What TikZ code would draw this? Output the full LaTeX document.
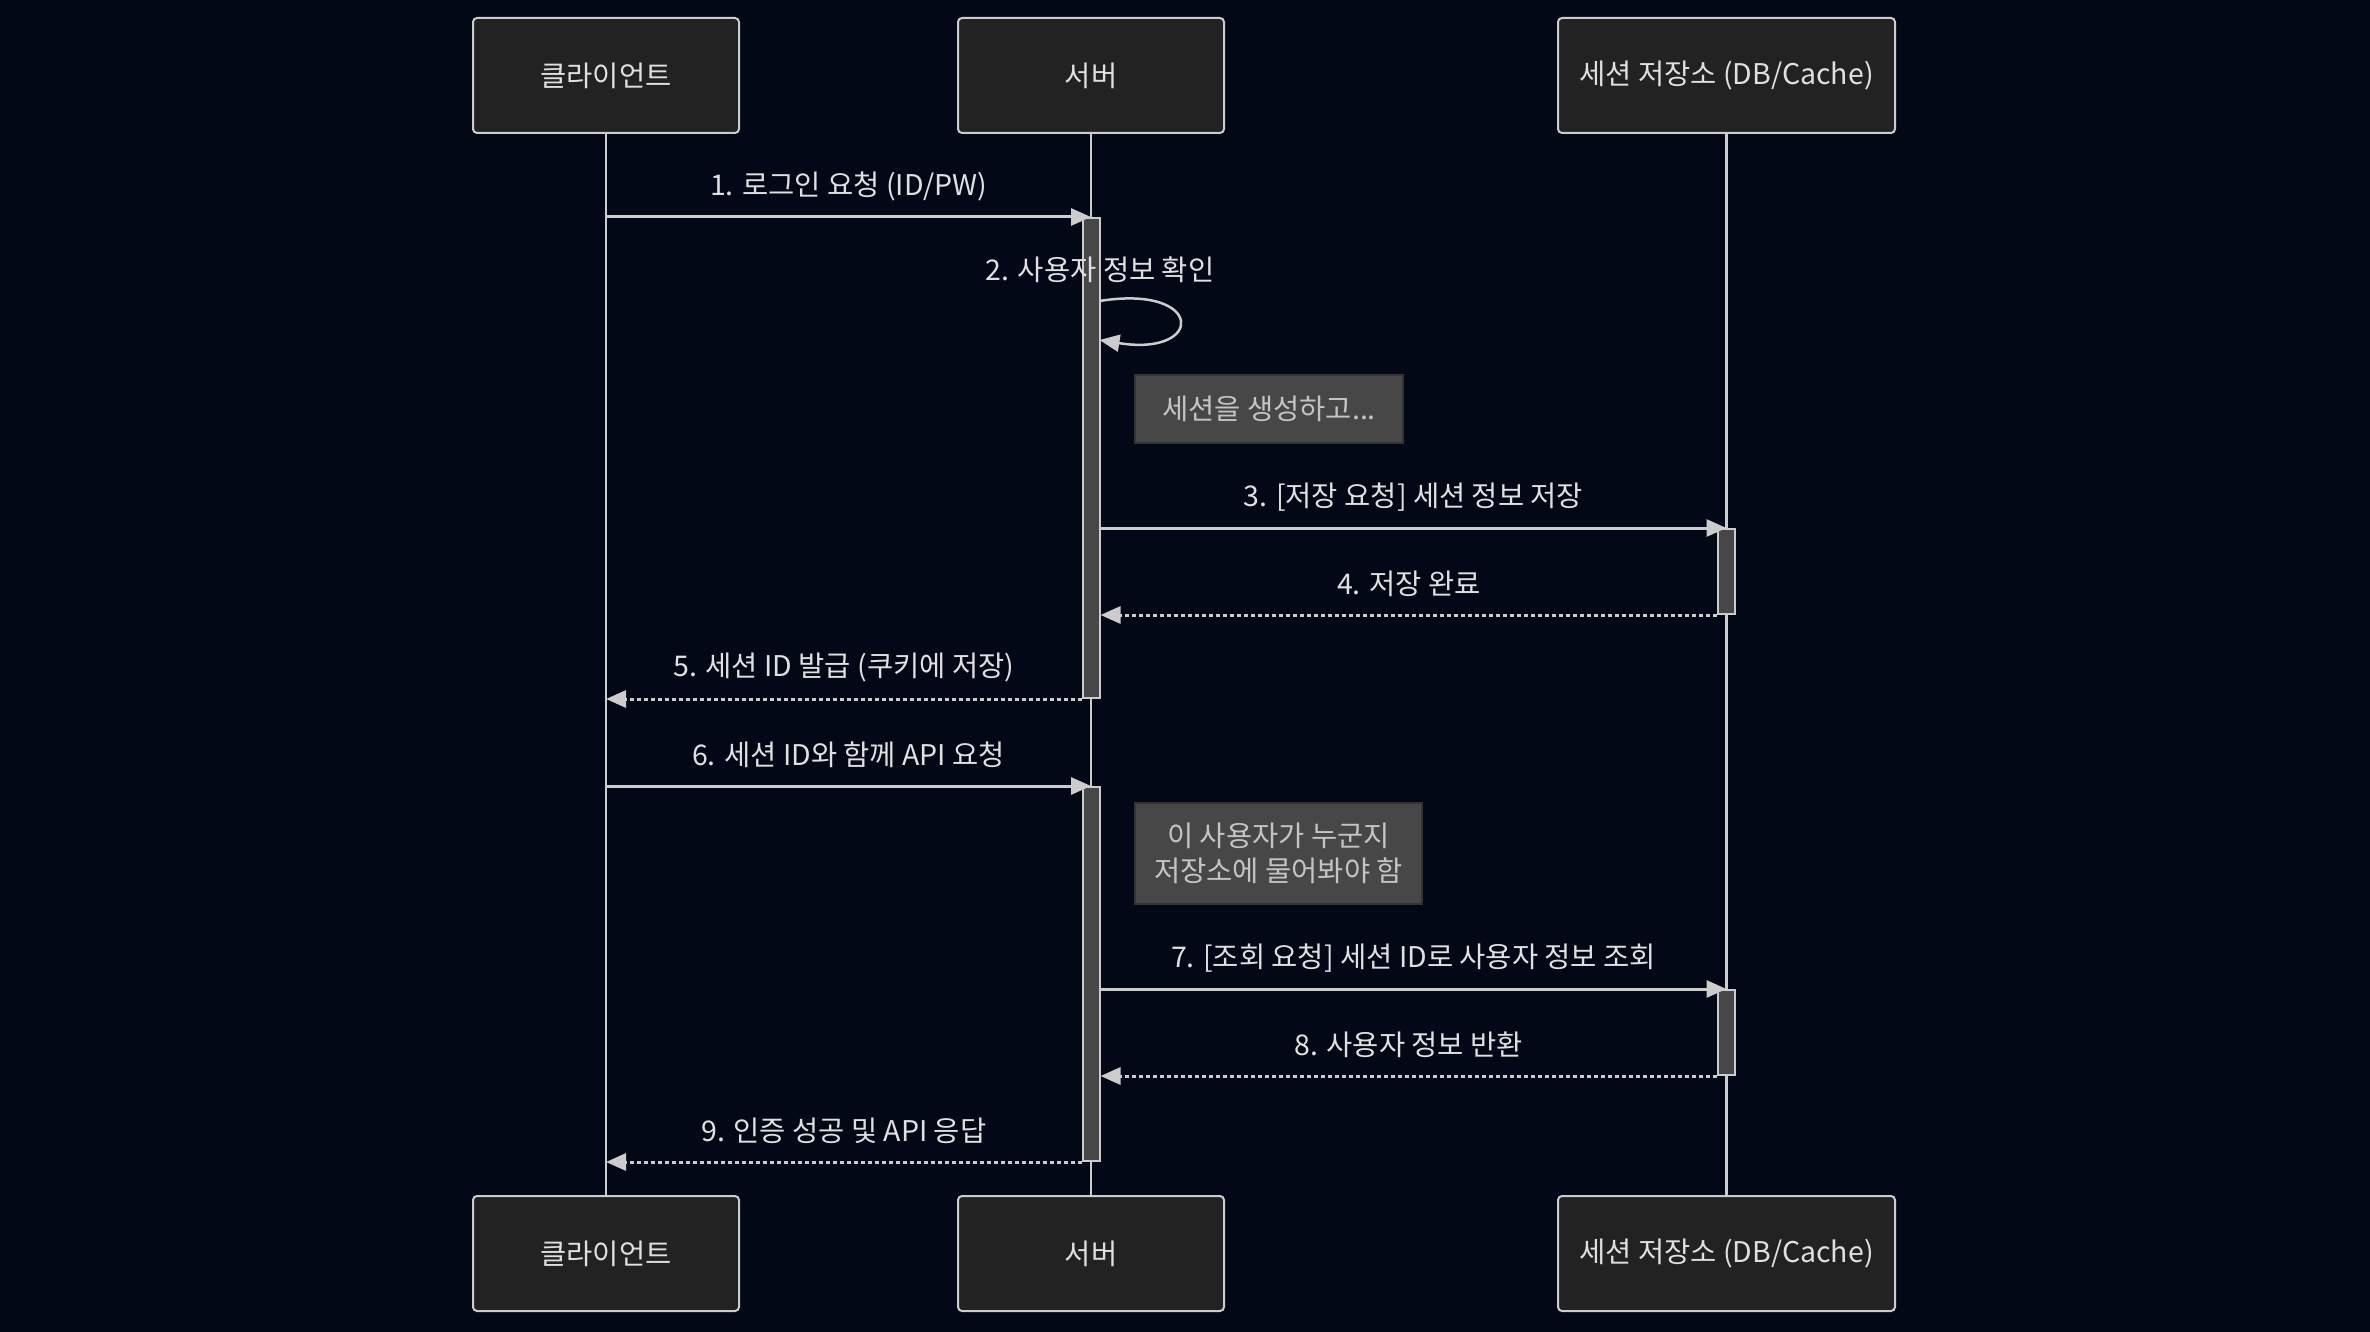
\documentclass[tikz,border=0pt]{standalone}
\usepackage{fontspec}
\setmainfont{Noto Sans CJK KR}
\usetikzlibrary{arrows.meta}
\definecolor{bgc}{HTML}{030817}
\definecolor{actfill}{HTML}{222222}
\definecolor{linec}{HTML}{CCCCCC}
\definecolor{txtc}{HTML}{E0E0E0}
\definecolor{barfill}{HTML}{474747}
\definecolor{notefill}{HTML}{474747}
\definecolor{noteborder}{HTML}{333333}
\definecolor{notetxt}{HTML}{C4C4C4}
\tikzset{
  actor/.style={draw=linec, line width=2pt, fill=actfill, rounded corners=4pt,
    minimum height=115pt, text=txtc, font=\fontsize{28.5}{33}\selectfont, inner sep=0pt},
  life/.style={draw=linec, line width=2.5pt},
  bar/.style={draw=linec, line width=2pt, fill=barfill, minimum width=17pt, inner sep=0pt},
  msg/.style={draw=linec, line width=3pt, -{Triangle[length=20pt,width=17pt]}},
  ret/.style={msg, dash pattern=on 4pt off 3pt},
  lbl/.style={text=txtc, font=\fontsize{28.5}{33}\selectfont, inner sep=0pt},
  notebox/.style={draw=noteborder, line width=2pt, fill=notefill, text=notetxt,
    font=\fontsize{28.5}{35}\selectfont, align=center, inner sep=0pt}
}
\begin{document}
\begin{tikzpicture}[x=1pt,y=-1pt]
\fill[bgc] (0,0) rectangle (2370,1332);
\useasboundingbox (0,0) rectangle (2370,1332);
% actors
\node[actor, minimum width=266pt] (c1) at (606,75.5) {클라이언트};
\node[actor, minimum width=266pt] (s1) at (1091,75.5) {서버};
\node[actor, minimum width=337pt] (d1) at (1726.5,75.5) {세션 저장소 (DB/Cache)};
\node[actor, minimum width=266pt] (c2) at (606,1253.5) {클라이언트};
\node[actor, minimum width=266pt] (s2) at (1091,1253.5) {서버};
\node[actor, minimum width=337pt] (d2) at (1726.5,1253.5) {세션 저장소 (DB/Cache)};
% lifelines
\draw[life] (c1.south) -- (c2.north);
\draw[life] (s1.south) -- (s2.north);
\draw[life] (d1.south) -- (d2.north);
% activations
\node[bar, minimum height=480pt] (a1) at (1091,458) {};
\node[bar, minimum height=85pt] (b1) at (1726.5,571.5) {};
\node[bar, minimum height=374pt] (a2) at (1091,974) {};
\node[bar, minimum height=85pt] (b2) at (1726.5,1032.5) {};
% notes
\node[notebox, minimum width=268pt, minimum height=68pt] (n1) at (1269,409) {세션을 생성하고...};
\node[notebox, minimum width=287pt, minimum height=101pt] (n2) at (1278.5,853.5) {이 사용자가 누군지\\저장소에 물어봐야 함};
% messages
\draw[msg] (c1.south |- a1.north) -- (a1.north)
  node[lbl, midway, yshift=31pt] {1. 로그인 요청 (ID/PW)};
\coordinate (l1) at (1099.5,301);
\coordinate (l2) at (1099.5,340);
\draw[msg, line width=2.5pt] (l1) .. controls (1205,284) and (1205,357) .. (l2);
\node[lbl] (t2) at (1100,270) {2. 사용자 정보 확인};
\draw[msg] (a1.east |- b1.north) -- (b1.north)
  node[lbl, midway, yshift=31pt] {3. [저장 요청] 세션 정보 저장};
\draw[ret] (b1.south west) -- (a1.east |- b1.south)
  node[lbl, midway, yshift=31pt] {4. 저장 완료};
\draw[ret] (a1.south west) -- (c1.south |- a1.south)
  node[lbl, midway, yshift=31pt] {5. 세션 ID 발급 (쿠키에 저장)};
\draw[msg] (c1.south |- a2.north) -- (a2.north)
  node[lbl, midway, yshift=31pt] {6. 세션 ID와 함께 API 요청};
\draw[msg] (a2.east |- b2.north) -- (b2.north)
  node[lbl, midway, yshift=31pt] {7. [조회 요청] 세션 ID로 사용자 정보 조회};
\draw[ret] (b2.south west) -- (a2.east |- b2.south)
  node[lbl, midway, yshift=31pt] {8. 사용자 정보 반환};
\draw[ret] (a2.south west) -- (c1.south |- a2.south)
  node[lbl, midway, yshift=31pt] {9. 인증 성공 및 API 응답};
\end{tikzpicture}
\end{document}
